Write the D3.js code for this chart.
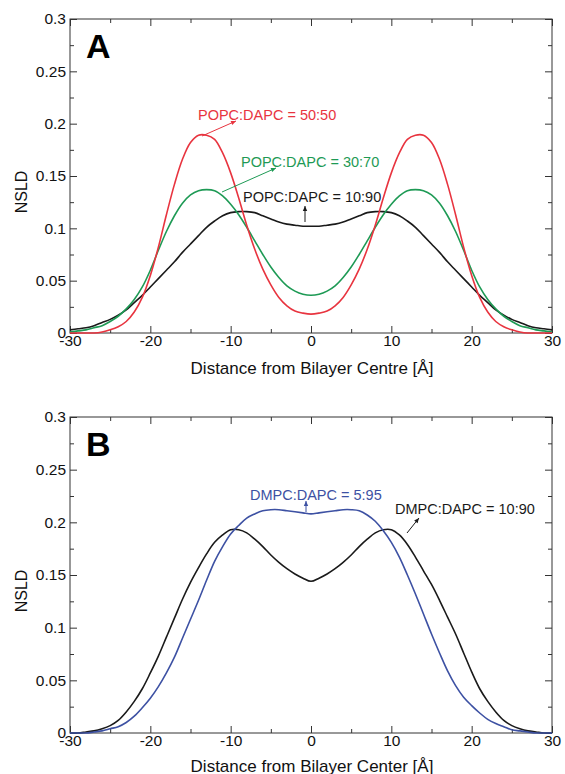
<!DOCTYPE html>
<html>
<head>
<meta charset="utf-8">
<script src="https://cdn.jsdelivr.net/npm/d3@7"></script>
<style>
  html, body { margin: 0; padding: 0; background: #fff; }
  svg { display: block; font-family: "Liberation Sans", Arial, Helvetica, sans-serif; }
</style>
</head>
<body>
<svg id="chart" width="565" height="774"></svg>
<script>
// ---------------- DATA ----------------
const distance = [-30,-29,-28,-27,-26,-25,-24,-23,-22,-21,-20,-19,-18,-17,-16,-15,-14,-13,-12,-11,-10,-9,-8,-7,-6,-5,-4,-3,-2,-1,0,
  1,2,3,4,5,6,7,8,9,10,11,12,13,14,15,16,17,18,19,20,21,22,23,24,25,26,27,28,29,30];

// Panel A
const popc5050 = [0.000,0.000,0.000,0.000,0.001,0.003,0.006,0.011,0.020,0.034,0.055,0.082,0.113,0.142,0.166,0.182,0.189,0.189,0.185,0.172,0.153,0.129,0.103,0.080,0.061,0.046,0.034,0.026,0.021,0.019,0.018,
  0.019,0.021,0.026,0.034,0.046,0.061,0.080,0.103,0.129,0.153,0.172,0.185,0.189,0.189,0.182,0.166,0.142,0.113,0.082,0.055,0.034,0.020,0.011,0.006,0.003,0.001,0.000,0.000,0.000,0.000];
const popc3070 = [0.001,0.002,0.003,0.005,0.007,0.011,0.016,0.023,0.032,0.044,0.060,0.079,0.097,0.112,0.124,0.132,0.136,0.137,0.136,0.131,0.123,0.113,0.101,0.088,0.075,0.063,0.053,0.045,0.040,0.037,0.036,
  0.037,0.040,0.045,0.053,0.063,0.075,0.088,0.101,0.113,0.123,0.131,0.136,0.137,0.136,0.132,0.124,0.112,0.097,0.079,0.060,0.044,0.032,0.023,0.016,0.011,0.007,0.005,0.003,0.002,0.001];
const popc1090 = [0.003,0.004,0.005,0.007,0.010,0.013,0.017,0.022,0.029,0.036,0.044,0.052,0.060,0.068,0.077,0.085,0.093,0.101,0.107,0.112,0.115,0.116,0.116,0.115,0.112,0.109,0.106,0.104,0.103,0.102,0.102,
  0.102,0.103,0.104,0.106,0.109,0.112,0.115,0.116,0.116,0.115,0.112,0.107,0.101,0.093,0.085,0.077,0.068,0.060,0.052,0.044,0.036,0.029,0.022,0.017,0.013,0.010,0.007,0.005,0.004,0.003];

// Panel B
const dmpc595 = [0.000,0.000,0.000,0.001,0.002,0.004,0.006,0.010,0.016,0.024,0.033,0.044,0.057,0.072,0.090,0.108,0.126,0.145,0.163,0.177,0.189,0.197,0.204,0.208,0.211,0.212,0.212,0.211,0.210,0.209,0.208,
  0.209,0.210,0.211,0.212,0.212,0.211,0.207,0.201,0.192,0.181,0.167,0.150,0.132,0.113,0.094,0.076,0.059,0.045,0.034,0.026,0.019,0.013,0.009,0.006,0.003,0.002,0.001,0.000,0.000,0.000];
const dmpc1090 = [0.000,0.000,0.001,0.002,0.004,0.007,0.012,0.020,0.030,0.042,0.057,0.073,0.091,0.109,0.127,0.143,0.157,0.170,0.181,0.188,0.193,0.193,0.190,0.184,0.177,0.169,0.162,0.156,0.151,0.147,0.144,
  0.147,0.151,0.156,0.162,0.169,0.177,0.184,0.190,0.193,0.193,0.188,0.179,0.167,0.154,0.141,0.126,0.110,0.094,0.076,0.058,0.042,0.030,0.020,0.012,0.007,0.004,0.002,0.001,0.000,0.000];

const xTicks = [-30,-20,-10,0,10,20,30];
const xMinorTicks = [-25,-15,-5,5,15,25];
const yTicks = [0,0.05,0.1,0.15,0.2,0.25,0.3];
const yTickLabels = ["0","0.05","0.1","0.15","0.2","0.25","0.3"];
const yMinorTicks = [0.025,0.075,0.125,0.175,0.225,0.275];

// ---------------- DRAW ----------------
const svg = d3.select("#chart");
const left = 70, right = 552;
const x = d3.scaleLinear().domain([-30, 30]).range([left, right]);

function panel(top, bottom, letter, xTitle, series, labels) {
  const y = d3.scaleLinear().domain([0, 0.3]).range([bottom, top]);
  const g = svg.append("g");
  const axisColor = "#333";

  // frame
  g.append("rect").attr("x", left).attr("y", top).attr("width", right - left).attr("height", bottom - top)
    .attr("fill", "none").attr("stroke", axisColor).attr("stroke-width", 1);

  function styleAxis(sel) {
    sel.select(".domain").remove();
    sel.selectAll(".tick line").attr("stroke", axisColor).attr("stroke-width", 1);
    sel.selectAll(".tick text").attr("fill", "#111").attr("font-size", 15.5);
  }

  // left axis with labels
  g.append("g").attr("transform", `translate(${left},0)`)
    .call(d3.axisLeft(y).tickValues(yTicks).tickFormat((d, i) => yTickLabels[i]).tickSizeInner(-7).tickSizeOuter(0).tickPadding(4))
    .call(styleAxis);
  g.append("g").attr("transform", `translate(${left},0)`)
    .call(d3.axisLeft(y).tickValues(yMinorTicks).tickFormat("").tickSizeInner(-4).tickSizeOuter(0))
    .call(styleAxis);
  // right axis
  g.append("g").attr("transform", `translate(${right},0)`)
    .call(d3.axisRight(y).tickValues(yTicks).tickFormat("").tickSizeInner(-7).tickSizeOuter(0))
    .call(styleAxis);
  g.append("g").attr("transform", `translate(${right},0)`)
    .call(d3.axisRight(y).tickValues(yMinorTicks).tickFormat("").tickSizeInner(-4).tickSizeOuter(0))
    .call(styleAxis);
  // bottom axis with labels
  const bx = g.append("g").attr("transform", `translate(0,${bottom})`)
    .call(d3.axisBottom(x).tickValues(xTicks).tickFormat(d3.format("d")).tickSizeInner(-7).tickSizeOuter(0).tickPadding(2))
    .call(styleAxis);
  bx.selectAll(".tick text").attr("dy", "0.71em").text(d => d < 0 ? "-" + Math.abs(d) : String(d));
  g.append("g").attr("transform", `translate(0,${bottom})`)
    .call(d3.axisBottom(x).tickValues(xMinorTicks).tickFormat("").tickSizeInner(-4).tickSizeOuter(0))
    .call(styleAxis);
  // top axis
  g.append("g").attr("transform", `translate(0,${top})`)
    .call(d3.axisTop(x).tickValues(xTicks).tickFormat("").tickSizeInner(-7).tickSizeOuter(0))
    .call(styleAxis);
  g.append("g").attr("transform", `translate(0,${top})`)
    .call(d3.axisTop(x).tickValues(xMinorTicks).tickFormat("").tickSizeInner(-4).tickSizeOuter(0))
    .call(styleAxis);

  // axis titles
  g.append("text").attr("x", (left + right) / 2 + 1).attr("y", Math.min(bottom + 41, 772))
    .attr("text-anchor", "middle").attr("font-size", 17).attr("fill", "#111").text(xTitle);
  g.append("text").attr("transform", `translate(27,${(top + bottom) / 2 + 16}) rotate(-90)`)
    .attr("text-anchor", "middle").attr("font-size", 16).attr("fill", "#111").text("NSLD");

  // panel letter
  g.append("text").attr("x", 86).attr("y", top + 39).attr("font-size", 34).attr("font-weight", "bold")
    .attr("fill", "#000").text(letter);

  // curves
  const line = d3.line().x((d, i) => x(distance[i])).y(d => y(d)).curve(d3.curveCatmullRom.alpha(0.5));
  series.forEach(s => {
    g.append("path").datum(s.values).attr("d", line).attr("fill", "none")
      .attr("stroke", s.color).attr("stroke-width", 1.6).attr("stroke-linejoin", "round");
  });

  // annotation labels with arrows
  labels.forEach(l => {
    g.append("text").attr("x", l.tx).attr("y", l.ty).attr("font-size", 14.5).attr("fill", l.color).text(l.text);
    const [x1, y1, x2, y2] = l.arrow;
    g.append("line").attr("x1", x1).attr("y1", y1).attr("x2", x2).attr("y2", y2)
      .attr("stroke", l.color).attr("stroke-width", 1);
    const ang = Math.atan2(y2 - y1, x2 - x1);
    const len = 5, wid = 2.2;
    const p = [
      [x2, y2],
      [x2 - len * Math.cos(ang) + wid * Math.sin(ang), y2 - len * Math.sin(ang) - wid * Math.cos(ang)],
      [x2 - len * Math.cos(ang) - wid * Math.sin(ang), y2 - len * Math.sin(ang) + wid * Math.cos(ang)]
    ];
    g.append("path").attr("d", "M" + p.map(q => q.join(",")).join("L") + "Z").attr("fill", l.color);
  });
}

const red = "#e8343f", green = "#1e9a55", black = "#1a1a1a", blue = "#3d51a3";

panel(19, 333, "A", "Distance from Bilayer Centre [Å]",
  [
    { values: popc1090, color: black },
    { values: popc3070, color: green },
    { values: popc5050, color: red }
  ],
  [
    { text: "POPC:DAPC = 50:50", color: red, tx: 198, ty: 120, arrow: [202, 136, 236, 121] },
    { text: "POPC:DAPC = 30:70", color: green, tx: 241, ty: 167, arrow: [222, 192, 276, 168] },
    { text: "POPC:DAPC = 10:90", color: black, tx: 243, ty: 202, arrow: [305, 222, 305, 206] }
  ]);

panel(417, 733, "B", "Distance from Bilayer Center [Å]",
  [
    { values: dmpc1090, color: black },
    { values: dmpc595, color: blue }
  ],
  [
    { text: "DMPC:DAPC = 5:95", color: blue, tx: 250, ty: 500, arrow: [306, 512, 306, 501] },
    { text: "DMPC:DAPC = 10:90", color: black, tx: 395, ty: 514, arrow: [407, 533, 419, 518] }
  ]);
</script>
</body>
</html>
